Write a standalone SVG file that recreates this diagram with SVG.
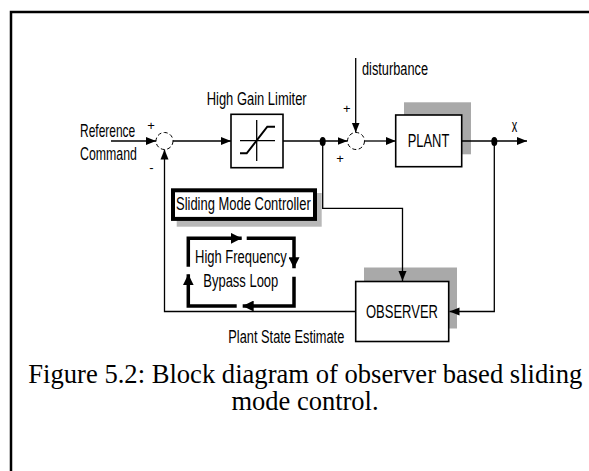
<svg xmlns="http://www.w3.org/2000/svg" width="589" height="471" viewBox="0 0 589 471">
<defs>
<style>
.ln{fill:none;stroke:#000;stroke-width:1.3}
.thk{fill:none;stroke:#000;stroke-width:3.5}
.box{fill:#fff;stroke:#000;stroke-width:1.6}
.sh{fill:#a9a9a9;stroke:none}
.sum{fill:#fff;stroke:#000;stroke-width:1;stroke-dasharray:4 2.5}
.lb{font-family:"Liberation Sans",Arial,sans-serif;font-size:17.5px;fill:#000}
.sg{font-family:"Liberation Sans",Arial,sans-serif;font-size:13px;fill:#000}
.cap{font-family:"Liberation Serif","Times New Roman",serif;font-size:26.5px;fill:#000}
</style>
<marker id="arr" markerUnits="userSpaceOnUse" markerWidth="11" markerHeight="9" refX="10" refY="4.5" orient="auto">
<path d="M0,0.5 L10,4.5 L0,8.5 z" fill="#000"/>
</marker>
<marker id="arrT" markerUnits="userSpaceOnUse" markerWidth="12" markerHeight="11" refX="11" refY="5.5" orient="auto">
<path d="M0,0 L11,5.5 L0,11 z" fill="#000"/>
</marker>
</defs>
<rect width="589" height="471" fill="#fff"/>
<path d="M11,471 V12 H589" fill="none" stroke="#000" stroke-width="2.5"/>

<g id="reference">
<text class="lb" transform="translate(80,137) scale(0.685,1)" font-size="19">Reference</text>
<text class="lb" transform="translate(80,160) scale(0.705,1)" font-size="19">Command</text>
</g>

<g id="limiter">
<text class="lb" x="206.7" y="105" textLength="100" lengthAdjust="spacingAndGlyphs">High Gain Limiter</text>
<rect class="box" x="231" y="114.3" width="52" height="53.4"/>
<path class="ln" d="M256.7,120 V161 M240,140.7 H275"/>
<path fill="none" stroke="#000" stroke-width="2" d="M240,153.3 H246.7 L267.3,126.7 H275"/>
</g>

<g id="disturbance">
<text class="lb" x="362" y="75" textLength="66" lengthAdjust="spacingAndGlyphs">disturbance</text>
</g>

<g id="plant">
<rect class="sh" x="404" y="102.3" width="67" height="52"/>
<rect class="box" x="395.7" y="115" width="66" height="51.7"/>
<text class="lb" x="407.7" y="147.3" font-size="21" textLength="41.6" lengthAdjust="spacingAndGlyphs">PLANT</text>
</g>

<g id="output">
<text class="lb" x="511.7" y="131.7" font-size="14" textLength="5.5" lengthAdjust="spacingAndGlyphs">x</text>
</g>

<g id="smc">
<rect x="176.7" y="193" width="145" height="33.7" fill="#b8b8b8"/>
<rect x="173" y="190.3" width="142" height="28.6" fill="#fff" stroke="#000" stroke-width="4"/>
<text class="lb" x="176" y="209.5" textLength="134.7" lengthAdjust="spacingAndGlyphs">Sliding Mode Controller</text>
</g>

<g id="bypass">
<path class="thk" d="M188.3,266.7 V238.3 H241.7" marker-end="url(#arrT)"/>
<path class="thk" d="M246.7,238.3 H294 V268.3" marker-end="url(#arrT)"/>
<path class="thk" d="M294,276.7 V306 H242.7" marker-end="url(#arrT)"/>
<path class="thk" d="M236.7,306 H188.3 V274.3" marker-end="url(#arrT)"/>
<text class="lb" x="195" y="263.3" font-size="18" textLength="91.7" lengthAdjust="spacingAndGlyphs">High Frequency</text>
<text class="lb" x="203.3" y="287.3" font-size="18" textLength="75" lengthAdjust="spacingAndGlyphs">Bypass Loop</text>
</g>

<g id="observer">
<rect class="sh" x="364" y="267.5" width="93" height="61"/>
<rect class="box" x="355.7" y="281.5" width="93" height="60"/>
<text class="lb" x="366" y="318" font-size="20" textLength="72" lengthAdjust="spacingAndGlyphs">OBSERVER</text>
</g>

<g id="estimate">
<text class="lb" x="228.3" y="343" textLength="116" lengthAdjust="spacingAndGlyphs">Plant State Estimate</text>
</g>

<g id="connectors">
<path class="ln" d="M111,141 H156" marker-end="url(#arr)"/>
<path class="ln" d="M173,141 H231" marker-end="url(#arr)"/>
<path class="ln" d="M283,141 H347.5" marker-end="url(#arr)"/>
<path class="ln" d="M355.7,58 V132.5" marker-end="url(#arr)"/>
<path class="ln" d="M364.5,141 H395.7" marker-end="url(#arr)"/>
<path class="ln" d="M462,141 H527" marker-end="url(#arr)"/>
<path class="ln" d="M494.3,141 V311.5 H449.5" marker-end="url(#arr)"/>
<path class="ln" d="M322.7,141 V208.3 H402.5 V281" marker-end="url(#arr)"/>
<path class="ln" d="M355.7,311.5 H164.5 V149.5" marker-end="url(#arr)"/>
<ellipse cx="322.7" cy="141.5" rx="3" ry="4.5" fill="#000"/>
<ellipse cx="494.3" cy="141.5" rx="3" ry="4.5" fill="#000"/>
</g>

<g id="sum1">
<circle class="sum" cx="164.5" cy="141" r="8.5"/>
<text class="sg" x="151" y="129.5" text-anchor="middle">+</text>
<text class="sg" x="151.5" y="172" text-anchor="middle">-</text>
</g>

<g id="sum2">
<circle class="sum" cx="356" cy="141" r="8.5"/>
<text class="sg" x="346.7" y="112.5" text-anchor="middle">+</text>
<text class="sg" x="340" y="162.5" text-anchor="middle">+</text>
</g>

<g id="caption">
<text class="cap" x="28.3" y="383" textLength="554" lengthAdjust="spacingAndGlyphs">Figure 5.2: Block diagram of observer based sliding</text>
<text class="cap" x="305" y="410" text-anchor="middle">mode control.</text>
</g>
</svg>
